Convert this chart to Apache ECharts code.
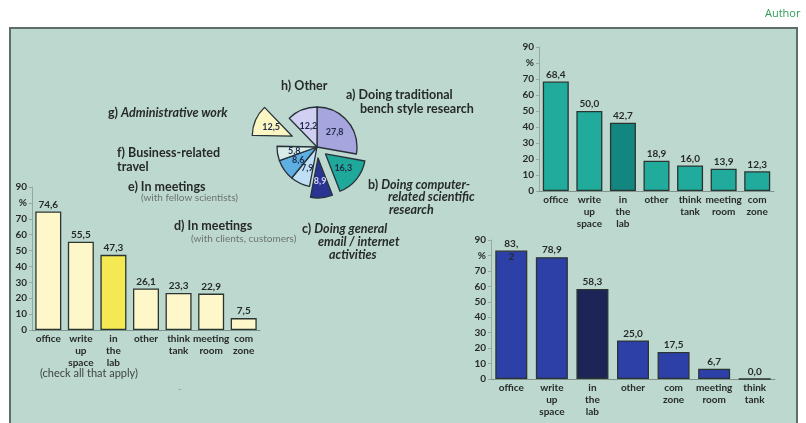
<!DOCTYPE html>
<html>
<head>
<meta charset="utf-8">
<script src="https://cdn.jsdelivr.net/npm/echarts@6/dist/echarts.min.js"></script>
<style>
  html, body { margin: 0; padding: 0; background: #ffffff; }
  #chart { width: 806px; height: 423px; }
</style>
</head>
<body>
<div id="chart"></div>
<script>
// Where researchers spend their working time (pie, %)
const pieNames = ['a', 'b', 'c', 'd', 'e', 'f', 'g', 'h'];
const pieValues = [27.8, 16.3, 8.9, 7.9, 8.6, 5.8, 12.5, 12.2];
const pieColors = ['#a7a5dd', '#1fa99b', '#2a3592', '#bfe0f4', '#5fb0e2', '#d9ede8', '#fbf6c2', '#d2d0f2'];
const pieExploded = ['b', 'c'];
const pieFar = 'g';

// Work locations (check all that apply), three groups
const catsA = ['office', 'write\nup\nspace', 'in\nthe\nlab', 'other', 'think\ntank', 'meeting\nroom', 'com\nzone'];
const valsA = [74.6, 55.5, 47.3, 26.1, 23.3, 22.9, 7.5];
const catsB = ['office', 'write\nup\nspace', 'in\nthe\nlab', 'other', 'think\ntank', 'meeting\nroom', 'com\nzone'];
const valsB = [68.4, 50.0, 42.7, 18.9, 16.0, 13.9, 12.3];
const catsC = ['office', 'write\nup\nspace', 'in\nthe\nlab', 'other', 'com\nzone', 'meeting\nroom', 'think\ntank'];
const valsC = [83.2, 78.9, 58.3, 25.0, 17.5, 6.7, 0.0];

const yMin = 0, yMax = 90, yStep = 10;
const yPercentTick = 80;

const FONT = 'Lato, "Open Sans", sans-serif';
const INK = '#262b2a';
const comma = v => v.toFixed(1).replace('.', ',');

function yAxis(gridIndex) {
  return {
    type: 'value', gridIndex, min: yMin, max: yMax, interval: yStep,
    splitLine: { show: false },
    axisLine: { show: true, lineStyle: { color: '#93aaa2', width: 1 } },
    axisTick: { show: true, length: 3, lineStyle: { color: '#93aaa2' } },
    axisLabel: {
      color: INK, fontFamily: FONT, fontWeight: 'bold', fontSize: 10, margin: 5,
      formatter: v => (v === yPercentTick ? '%' : String(v))
    }
  };
}
function xAxis(gridIndex, cats) {
  return {
    type: 'category', gridIndex, data: cats,
    axisLine: { show: true, lineStyle: { color: '#7d948d', width: 1 } },
    axisTick: { show: false },
    axisLabel: {
      color: INK, fontFamily: FONT, fontWeight: 'bold', fontSize: 10,
      lineHeight: 12, margin: 3, interval: 0
    }
  };
}
function bars(idx, vals, color, accent, width, accentIndex) {
  return {
    type: 'bar', xAxisIndex: idx, yAxisIndex: idx, barWidth: width,
    data: vals.map((v, i) => ({
      value: v,
      itemStyle: { color: i === accentIndex ? accent : color }
    })),
    itemStyle: { borderColor: '#2a3532', borderWidth: 1.3 },
    label: {
      show: true, position: 'top', distance: 2, color: INK,
      fontFamily: FONT, fontWeight: 'bold', fontSize: 10,
      formatter: p => comma(p.value)
    },
    silent: true
  };
}

// The office value in the lower right group wraps across the bar top
const barsC = bars(2, valsC, '#2d40a8', '#1d2557', 32, 2);
barsC.data[0].label = { formatter: comma(valsC[0]).replace(',', ',\n'), lineHeight: 13, offset: [0, 15] };

function pieData(visible) {
  return pieNames.map((n, i) => {
    const show = visible(n);
    return {
      name: n, value: pieValues[i],
      selected: show && (pieExploded.includes(n) || n === pieFar),
      itemStyle: show
        ? { color: pieColors[i], borderColor: '#27323a', borderWidth: 1.3 }
        : { color: 'rgba(0,0,0,0)', borderWidth: 0 },
      label: {
        show: show,
        color: n === 'c' ? '#d6d6f7' : '#1f2a4a'
      }
    };
  });
}
const pieBase = {
  type: 'pie', center: [317, 147], radius: [0, 40], startAngle: 90, clockwise: true,
  selectedMode: 'multiple', silent: true, animation: false,
  minShowLabelAngle: 0, avoidLabelOverlap: false,
  label: {
    position: 'inner', fontFamily: FONT, fontWeight: 'bold', fontSize: 9,
    overflow: 'none',
    formatter: p => comma(p.value)
  },
  labelLine: { show: false },
  labelLayout: { hideOverlap: false },
  emphasis: { disabled: true }
};

const txt = (x, y, text, extra) => ({
  type: 'text', x, y, silent: true,
  style: Object.assign({
    text, fill: INK, fontFamily: FONT, fontSize: 12.5, fontWeight: 'bold',
    align: 'left', verticalAlign: 'middle'
  }, extra || {})
});
const note = (x, y, text) => txt(x, y, text, { fontSize: 10, fontWeight: 'normal', fill: '#6c7370' });
const ital = (x, y, text) => txt(x, y, text, { fontStyle: 'italic' });
const richMix = {
  n: { fontFamily: FONT, fontWeight: 'bold', fontSize: 12.5, fill: INK },
  i: { fontFamily: FONT, fontWeight: 'bold', fontSize: 12.5, fontStyle: 'italic', fill: INK }
};

const chart = echarts.init(document.getElementById('chart'), null, { renderer: 'canvas' });
chart.setOption({
  animation: false,
  backgroundColor: '#ffffff',
  graphic: [
    { type: 'rect', z: -10, silent: true,
      shape: { x: 10, y: 28, width: 787, height: 420 },
      style: { fill: '#bdd8ce', stroke: '#5e6d68', lineWidth: 2 } },
    txt(765, 14, 'Author', { fill: '#2f9a58', fontWeight: 'normal', fontSize: 11, fontFamily: '"Open Sans", sans-serif' }),
    txt(281, 86, 'h) Other'),
    txt(346, 95, 'a) Doing traditional'),
    txt(360, 109, 'bench style research'),
    txt(368, 185, '{n|b) }{i|Doing computer-}', { rich: richMix }),
    ital(388, 197, 'related scientific'),
    ital(389, 210, 'research'),
    txt(302, 229, '{n|c) }{i|Doing general}', { rich: richMix }),
    ital(318, 242, 'email / internet'),
    ital(329, 255, 'activities'),
    txt(174, 226, 'd) In meetings'),
    note(191, 239, '(with clients, customers)'),
    txt(128, 187, 'e) In meetings'),
    note(141, 198, '(with fellow scientists)'),
    txt(117, 153, 'f) Business-related'),
    txt(117, 167, 'travel'),
    txt(108, 113, '{n|g) }{i|Administrative work}', { rich: richMix }),
    txt(40, 373, '(check all that apply)', { fontWeight: 'normal', fontSize: 11, fill: '#3d4543' }),
    txt(178, 389, '-', { fontWeight: 'normal', fontSize: 9, fill: '#8a9893' })
  ],
  grid: [
    { left: 32, top: 187, width: 228, height: 143 },
    { left: 539, top: 47, width: 235, height: 144 },
    { left: 491, top: 240, width: 284, height: 139 }
  ],
  xAxis: [xAxis(0, catsA), xAxis(1, catsB), xAxis(2, catsC)],
  yAxis: [yAxis(0), yAxis(1), yAxis(2)],
  series: [
    bars(0, valsA, '#fdf7c9', '#f4e952', 26, 2),
    bars(1, valsB, '#21ab9d', '#13877f', 26, 2),
    barsC,
    Object.assign({}, pieBase, { selectedOffset: 11, data: pieData(n => n !== pieFar) }),
    Object.assign({}, pieBase, { selectedOffset: 27, data: pieData(n => n === pieFar) })
  ]
});
</script>
</body>
</html>
